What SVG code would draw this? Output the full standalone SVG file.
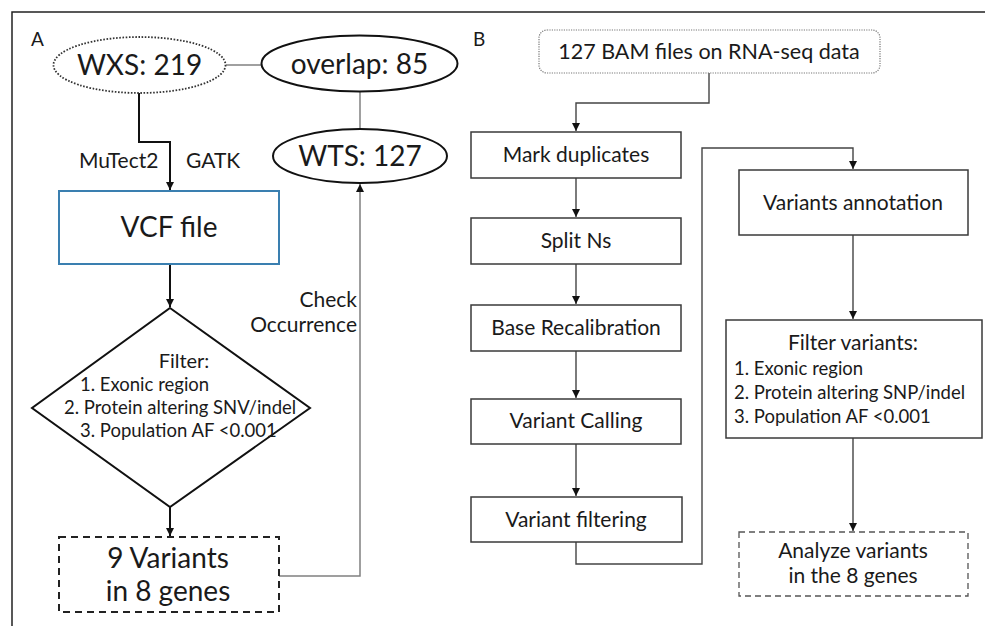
<svg xmlns="http://www.w3.org/2000/svg" width="985" height="626" viewBox="0 0 985 626">
<defs>
<marker id="arr" markerUnits="userSpaceOnUse" markerWidth="9" markerHeight="9" refX="8" refY="4" orient="auto">
<path d="M0,0 L8,4 L0,8 z" fill="#111"/>
</marker>
<style>
text{font-family:Lato,"Open Sans","Liberation Sans",sans-serif;fill:#1a1a1a}
.big{font-size:28px}
.mid{font-size:21px}
.sm{font-size:18.5px}
.c{text-anchor:middle}
.box{fill:#fff;stroke:#3a3a3a;stroke-width:1.5}
.lnA{fill:none;stroke:#111;stroke-width:2}
.lnG{fill:none;stroke:#808080;stroke-width:1.5}
.lnB{fill:none;stroke:#444;stroke-width:1.4}
</style>
</defs>
<rect width="985" height="626" fill="#fff"/>
<g id="frame">
<path d="M12,626 V12 H985" fill="none" stroke="#222" stroke-width="1.5"/>
</g>
<g id="labels">
<text x="31" y="46" style="font-size:19px">A</text>
<text x="473" y="46" style="font-size:19px">B</text>
</g>
<g id="connectors">
<path class="lnG" d="M226,65 H261"/>
<path class="lnG" d="M360,92 V129"/>
<path class="lnA" d="M139,93 V142 H170 V190" marker-end="url(#arr)"/>
<path class="lnA" d="M170,264 V307" marker-end="url(#arr)"/>
<path class="lnA" d="M170,507 V536" marker-end="url(#arr)"/>
<path class="lnG" d="M279,576 H360 V184" marker-end="url(#arr)"/>
<path class="lnB" d="M709,73 V103 H576 V131" marker-end="url(#arr)"/>
<path class="lnB" d="M576,178 V217" marker-end="url(#arr)"/>
<path class="lnB" d="M576,264 V304" marker-end="url(#arr)"/>
<path class="lnB" d="M576,351 V398" marker-end="url(#arr)"/>
<path class="lnB" d="M576,444 V496" marker-end="url(#arr)"/>
<path class="lnB" d="M576,542 V564 H702 V148 H853 V169" marker-end="url(#arr)"/>
<path class="lnB" d="M853,235 V319" marker-end="url(#arr)"/>
<path class="lnB" d="M853,438 V531" marker-end="url(#arr)"/>
<text x="79" y="168" class="mid">MuTect2</text>
<text x="186" y="168" class="mid">GATK</text>
<text x="357" y="307" class="mid" text-anchor="end">Check</text>
<text x="357" y="332" class="mid" text-anchor="end">Occurrence</text>
</g>
<g id="wxs">
<ellipse cx="139.5" cy="65" rx="86" ry="28" fill="#fff" stroke="#333" stroke-width="1.8" stroke-dasharray="1.6 1.6"/>
<text x="139.5" y="75" class="big c">WXS: 219</text>
</g>
<g id="overlap">
<ellipse cx="359.5" cy="63.5" rx="98" ry="28" fill="#fff" stroke="#111" stroke-width="2"/>
<text x="359.5" y="74" class="big c">overlap: 85</text>
</g>
<g id="wts">
<ellipse cx="360" cy="156" rx="87" ry="27" fill="#fff" stroke="#111" stroke-width="2"/>
<text x="360" y="166" class="big c">WTS: 127</text>
</g>
<g id="vcf">
<rect x="59" y="191" width="220" height="73" fill="#fff" stroke="#3a7fb0" stroke-width="2"/>
<text x="169" y="237" class="big c">VCF file</text>
</g>
<g id="filterA">
<path d="M170,308 L310,408 L170,507 L32,408 Z" fill="#fff" stroke="#111" stroke-width="2"/>
<text x="184" y="368" class="c" style="font-size:20px">Filter:</text>
<text x="80" y="391" class="sm">1. Exonic region</text>
<text x="64" y="414" class="sm">2. Protein altering SNV/indel</text>
<text x="80" y="437" class="sm">3. Population AF &lt;0.001</text>
</g>
<g id="variants9">
<rect x="59" y="537" width="220" height="75" fill="#fff" stroke="#222" stroke-width="2" stroke-dasharray="7 5"/>
<text x="168" y="568" class="big c">9 Variants</text>
<text x="168" y="601" class="big c">in 8 genes</text>
</g>
<g id="bam">
<rect x="539" y="30" width="341" height="43" rx="8" fill="#fff" stroke="#777" stroke-width="1.2" stroke-dasharray="1.2 1.2"/>
<text x="709" y="59" class="c" style="font-size:21.5px">127 BAM files on RNA-seq data</text>
</g>
<g id="markdup">
<rect class="box" x="471" y="132" width="210" height="46"/>
<text x="576" y="162" class="mid c">Mark duplicates</text>
</g>
<g id="splitns">
<rect class="box" x="471" y="218" width="210" height="46"/>
<text x="576" y="248" class="mid c">Split Ns</text>
</g>
<g id="baserecal">
<rect class="box" x="471" y="305" width="210" height="46"/>
<text x="576" y="335" class="mid c">Base Recalibration</text>
</g>
<g id="varcall">
<rect class="box" x="471" y="399" width="210" height="45"/>
<text x="576" y="428" class="mid c">Variant Calling</text>
</g>
<g id="varfilt">
<rect class="box" x="471" y="497" width="211" height="45"/>
<text x="576" y="527" class="mid c">Variant filtering</text>
</g>
<g id="varannot">
<rect class="box" x="739" y="170" width="229" height="65"/>
<text x="853" y="210" class="mid c">Variants annotation</text>
</g>
<g id="filterB">
<rect class="box" x="726" y="320" width="256" height="118"/>
<text x="853" y="350" class="mid c">Filter variants:</text>
<text x="734" y="375" class="sm">1. Exonic region</text>
<text x="734" y="399" class="sm">2. Protein altering SNP/indel</text>
<text x="734" y="423" class="sm">3. Population AF &lt;0.001</text>
</g>
<g id="analyze">
<rect x="739" y="532" width="229" height="64" fill="#fff" stroke="#555" stroke-width="1.3" stroke-dasharray="6 4"/>
<text x="853" y="558" class="mid c">Analyze variants</text>
<text x="853" y="583" class="mid c">in the 8 genes</text>
</g>
</svg>
